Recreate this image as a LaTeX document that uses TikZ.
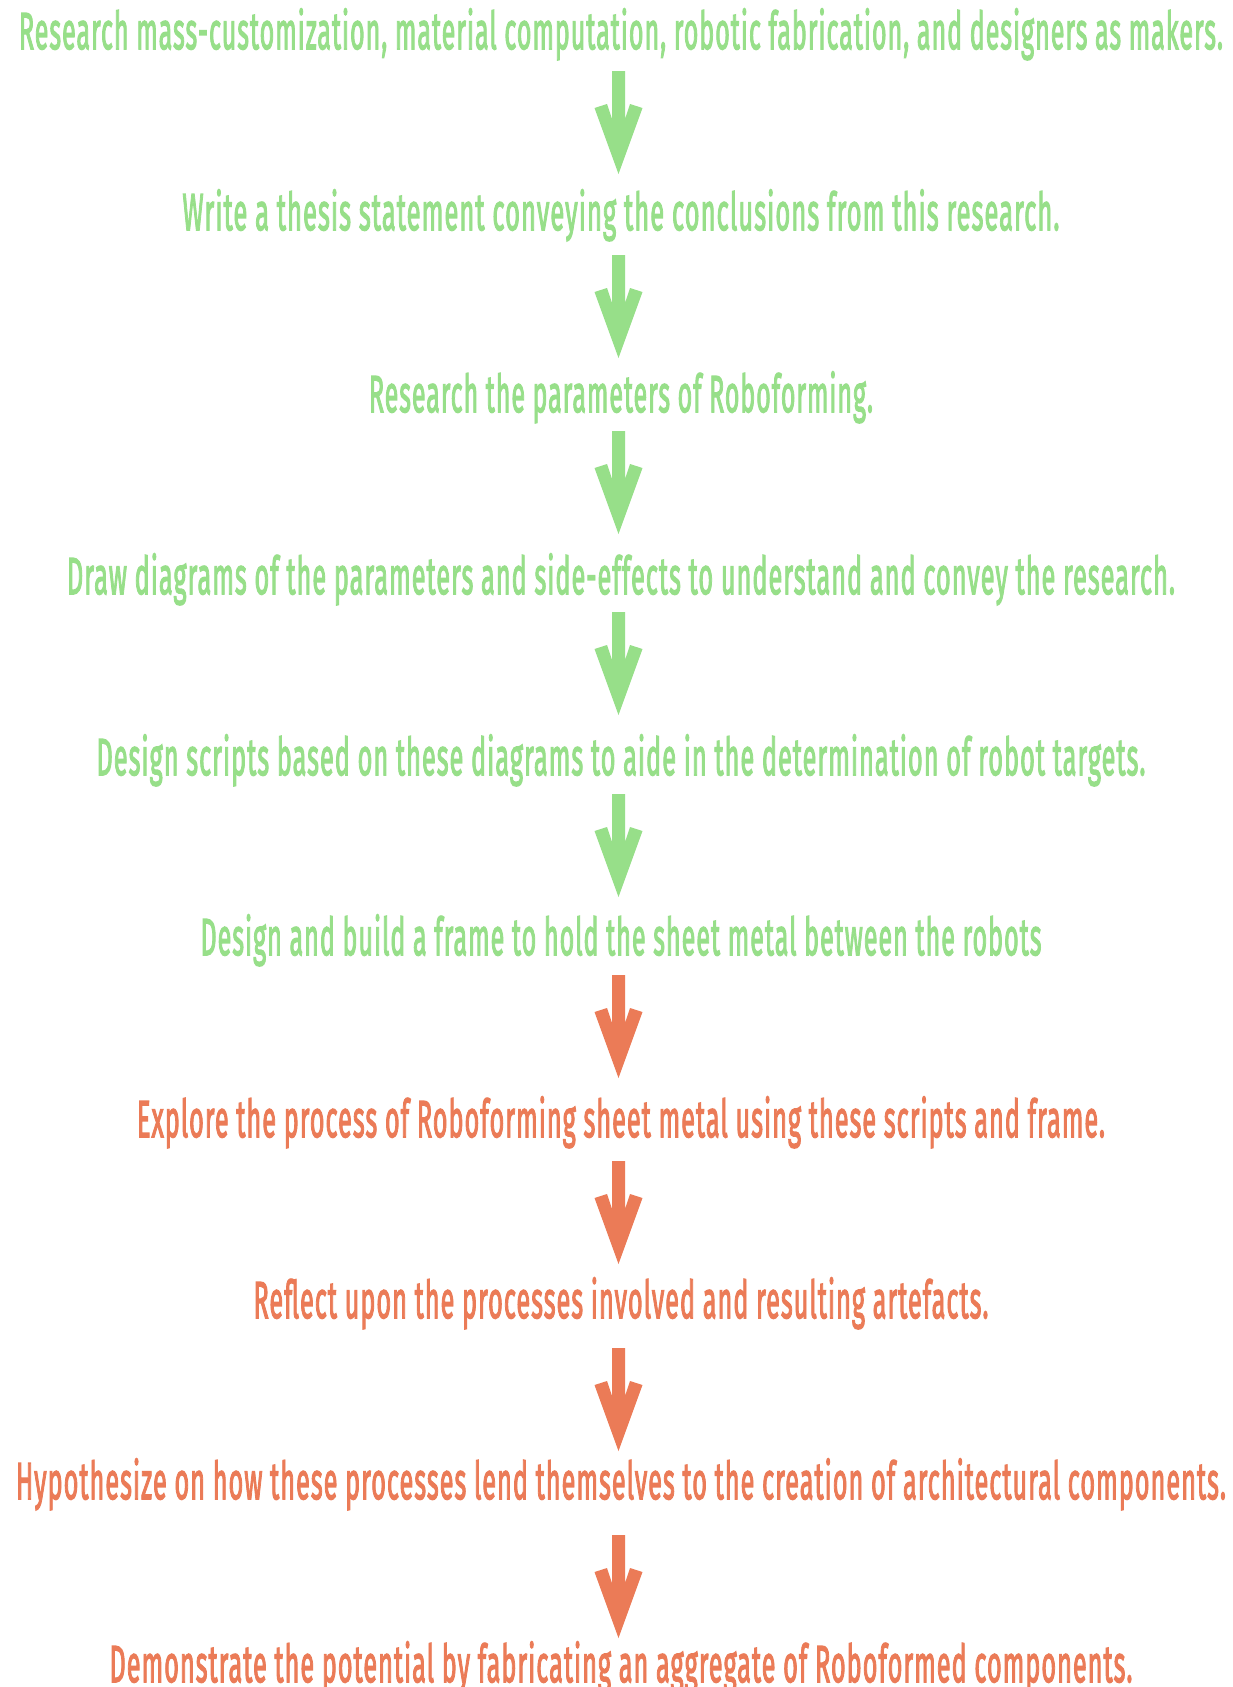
\documentclass[tikz,border=0pt]{standalone}
\usepackage{fontspec}
\setmainfont{Fira Sans}[FakeBold=3, LetterSpace=4]
\usepackage{graphicx}
\definecolor{stepgreen}{RGB}{151,223,137}
\definecolor{steporange}{RGB}{235,123,87}
% squeeze a line horizontally to a given width, keeping its height
\newcommand{\fitline}[2]{\resizebox{#1pt}{\height}{#2}}
\tikzset{
  steptext/.style={anchor=base, inner sep=0pt, font=\fontsize{52}{60}\selectfont},
  greenstep/.style={steptext, text=stepgreen},
  orangestep/.style={steptext, text=steporange},
  pics/downarrow/.style={code={
    \fill[#1] (-6.5,0) -- (6.5,0) -- (6.5,48) -- (11.5,33) -- (24,37) -- (0,103)
      -- (-24,37) -- (-11.5,33) -- (-6.5,48) -- cycle;
  }}
}
\begin{document}
\begin{tikzpicture}[x=1pt,y=-1pt]
\useasboundingbox[fill=white] (0,0) rectangle (1232,1687);

\node[greenstep] (t1) at (621,49) {\fitline{1204}{Research mass-customization, material computation, robotic fabrication, and designers as makers.}};
\node[greenstep] (t2) at (621,230) {\fitline{877}{Write a thesis statement conveying the conclusions from this research.}};
\node[greenstep] (t3) at (621,412) {\fitline{504}{Research the parameters of Roboforming.}};
\node[greenstep] (t4) at (621,594) {\fitline{1108}{Draw diagrams of the parameters and side-effects to understand and convey the research.}};
\node[greenstep] (t5) at (621,775) {\fitline{1049}{Design scripts based on these diagrams to aide in the determination of robot targets.}};
\node[greenstep] (t6) at (621,955) {\fitline{841}{Design and build a frame to hold the sheet metal between the robots}};
\node[orangestep] (t7) at (621,1137) {\fitline{968}{Explore the process of Roboforming sheet metal using these scripts and frame.}};
\node[orangestep] (t8) at (621,1318) {\fitline{735}{Reflect upon the processes involved and resulting artefacts.}};
\node[orangestep] (t9) at (621,1499) {\fitline{1210}{Hypothesize on how these processes lend themselves to the creation of architectural components.}};
\node[orangestep] (t10) at (621,1682) {\fitline{1023}{Demonstrate the potential by fabricating an aggregate of Roboformed components.}};

% block arrows between consecutive steps
\coordinate (a1) at (618.5,71);
\coordinate (a2) at (618.5,255);
\coordinate (a3) at (618.5,431);
\coordinate (a4) at (618.5,612);
\coordinate (a5) at (618.5,794);
\coordinate (a6) at (618.5,975);
\coordinate (a7) at (618.5,1161);
\coordinate (a8) at (618.5,1348);
\coordinate (a9) at (618.5,1535);
\foreach \a in {a1,a2,a3,a4,a5} \pic at (\a) {downarrow=stepgreen};
\foreach \a in {a6,a7,a8,a9} \pic at (\a) {downarrow=steporange};
\end{tikzpicture}
\end{document}
